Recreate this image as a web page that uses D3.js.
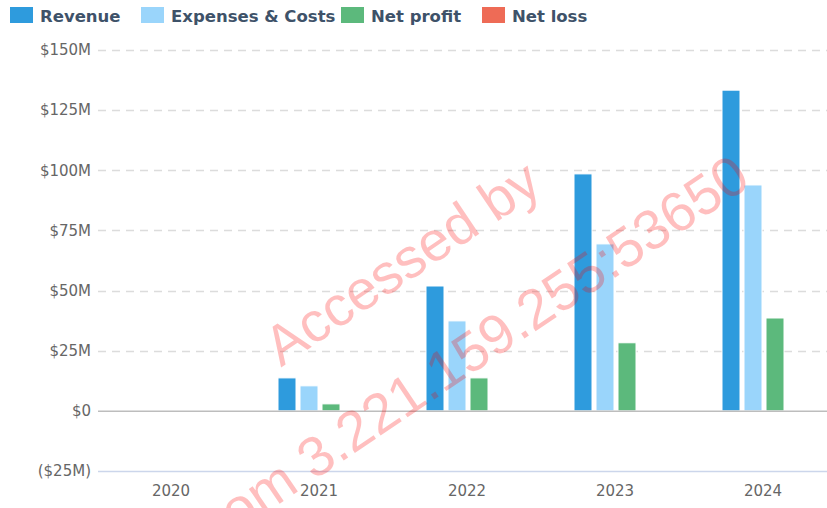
<!DOCTYPE html>
<html>
<head>
<meta charset="utf-8">
<title>Revenue, costs and profit</title>
<script src="https://d3js.org/d3.v7.min.js" charset="utf-8"></script>
<style>
    body { margin: 0; background: #fff; }
    text { font-family: "DejaVu Sans", sans-serif; }
</style>
</head>
<body>
<script>

    var years = ["2020", "2021", "2022", "2023", "2024"];
    var seriesNames = ["Revenue", "Expenses & Costs", "Net profit", "Net loss"];
    var seriesColors = ["#2e9bdd", "#9ad5fb", "#5cb97c", "#ee6b56"];

    // values in $M, null = no bar
    var revenue  = [null, 13.7, 51.9, 98.5, 133.3];
    var expenses = [null, 10.4, 37.4, 69.4, 93.9];
    var netProfit = [null, 2.9, 13.7, 28.3, 38.6];
    var netLoss   = [null, null, null, null, null];

    var yTicks = [-25, 0, 25, 50, 75, 100, 125, 150];
    var watermarkLines = ["Accessed by", "from 3.221.159.255:53650"];

    var width = 827, height = 508;
    var margin = {top: 50, bottom: 37, left: 97, right: -10};

    var allSeries = [revenue, expenses, netProfit, netLoss];

    var svg = d3.select("body").append("svg")
        .attr("width", width)
        .attr("height", height);

    var xScale = d3.scaleBand()
        .domain(years)
        .range([margin.left, width - margin.right])
        .padding(0);

    var xInner = d3.scaleBand()
        .domain(seriesNames)
        .range([31, 119]);

    var yScale = d3.scaleLinear()
        .domain([-25, 150])
        .range([height - margin.bottom, margin.top]);

    function money(v) {
        if (v === 0) return "$0";
        if (v < 0) return "($" + Math.abs(v) + "M)";
        return "$" + v + "M";
    }

    // grid
    svg.append("g").selectAll("line")
        .data(yTicks.filter(function(d) { return d > 0; }))
        .enter().append("line")
        .attr("x1", margin.left + 1)
        .attr("x2", width)
        .attr("y1", function(d) { return Math.round(yScale(d)) + 0.5; })
        .attr("y2", function(d) { return Math.round(yScale(d)) + 0.5; })
        .style("stroke", "#dcdcdc")
        .style("stroke-width", 1.6)
        .style("stroke-dasharray", "8,6");

    // y labels
    var yAxis = svg.append("g")
        .attr("transform", "translate(" + margin.left + ",0)")
        .call(d3.axisLeft(yScale).tickValues(yTicks).tickFormat(money).tickSize(0).tickPadding(6));
    yAxis.select(".domain").remove();
    yAxis.selectAll("text")
        .style("font-family", "DejaVu Sans, sans-serif")
        .style("font-size", "15px")
        .style("fill", "#666");

    // bottom axis line
    svg.append("line")
        .attr("x1", margin.left + 1).attr("x2", width)
        .attr("y1", yScale(-25) + 0.5).attr("y2", yScale(-25) + 0.5)
        .style("stroke", "#ccd6eb")
        .style("stroke-width", 1.5);

    var xAxis = svg.append("g")
        .attr("transform", "translate(0," + yScale(-25) + ")")
        .call(d3.axisBottom(xScale).tickSize(0).tickPadding(14));
    xAxis.select(".domain").remove();
    xAxis.selectAll("text")
        .style("font-family", "DejaVu Sans, sans-serif")
        .style("font-size", "15px")
        .style("fill", "#666");

    // bars
    var groups = svg.append("g").selectAll("g")
        .data(years)
        .enter().append("g")
        .attr("transform", function(d) { return "translate(" + xScale(d) + ",0)"; });

    groups.selectAll("rect")
        .data(function(d, i) {
            return seriesNames.map(function(s, j) {
                return {series: s, color: seriesColors[j], value: allSeries[j][i]};
            }).filter(function(e) { return e.value !== null; });
        })
        .enter().append("rect")
        .attr("x", function(d) { return xInner(d.series) + 2; })
        .attr("width", xInner.bandwidth() - 4)
        .attr("y", function(d) { return yScale(Math.max(0, d.value)); })
        .attr("height", function(d) { return Math.abs(yScale(d.value) - yScale(0)); })
        .style("fill", function(d) { return d.color; })
        .style("stroke", "#fff")
        .style("stroke-width", 1);

    // zero line
    svg.append("line")
        .attr("x1", margin.left + 1).attr("x2", width)
        .attr("y1", yScale(0) + 0.5).attr("y2", yScale(0) + 0.5)
        .style("stroke", "#bdbdbd")
        .style("stroke-width", 1.5);

    // legend
    var legendX = [10, 141, 341, 482];
    var legend = svg.append("g").selectAll("g")
        .data(seriesNames)
        .enter().append("g")
        .attr("transform", function(d, i) { return "translate(" + legendX[i] + ",7)"; });
    legend.append("rect")
        .attr("width", 23).attr("height", 16)
        .style("fill", function(d, i) { return seriesColors[i]; });
    legend.append("text")
        .attr("x", 30).attr("y", 15)
        .style("font-size", "16.5px")
        .style("font-weight", "bold")
        .style("fill", "#3e5269")
        .text(function(d) { return d; });

    // watermark
    var wm = svg.append("g")
        .attr("transform", "translate(444,318) rotate(-34)");
    wm.selectAll("text")
        .data(watermarkLines)
        .enter().append("text")
        .attr("x", function(d, i) { return i === 0 ? -4 : 2; })
        .attr("y", function(d, i) { return i === 0 ? -50 : 62; })
        .style("text-anchor", "middle")
        .style("font-family", "Liberation Sans, Arial, sans-serif")
        .style("font-size", "56px")
        .style("fill", "rgba(255,0,0,0.25)")
        .text(function(d) { return d; });

</script>
</body>
</html>
